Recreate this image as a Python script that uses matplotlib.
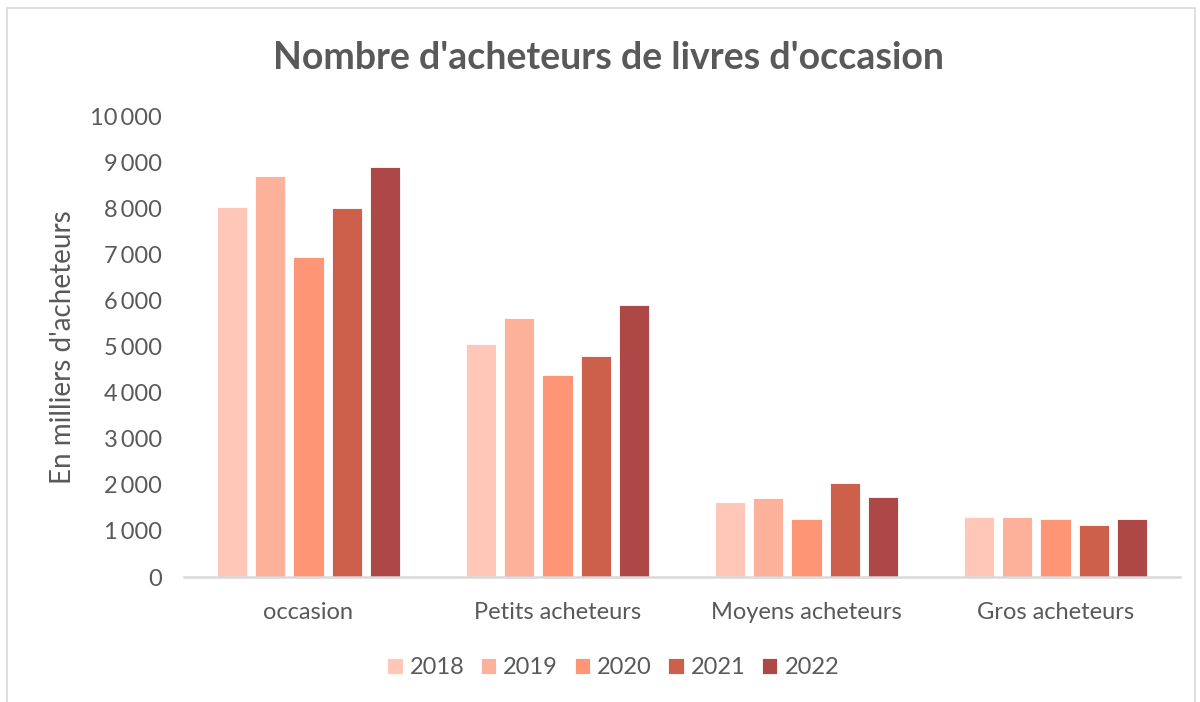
import numpy as np
import matplotlib.pyplot as plt
from matplotlib.patches import Rectangle

# --- Data ---
categories = ['occasion', 'Petits acheteurs', 'Moyens acheteurs', 'Gros acheteurs']
years = ['2018', '2019', '2020', '2021', '2022']
v2018 = [8040, 5060, 1630, 1300]
v2019 = [8700, 5630, 1720, 1300]
v2020 = [6960, 4390, 1270, 1270]
v2021 = [8010, 4810, 2050, 1120]
v2022 = [8910, 5900, 1730, 1270]
series = [v2018, v2019, v2020, v2021, v2022]

colors = ['#FFC7B8', '#FDB09A', '#FE9574', '#CD604A', '#AE4846']
text_col = '#595959'

plt.rcParams['font.family'] = ['Lato', 'DejaVu Sans']

fig = plt.figure(figsize=(12, 7.02), dpi=100)
ax = fig.add_axes([0.1533, 0.178, 0.83, 0.656])

x = np.arange(len(categories))
step = 0.154
width = 0.122
for i, (vals, yr) in enumerate(zip(series, years)):
    ax.bar(x + (i - 2) * step, vals, width, color=colors[i], label=yr,
           edgecolor='white', linewidth=0.6, zorder=2)

ax.set_xlim(-0.5, len(categories) - 0.5)
ax.set_ylim(0, 10000)
ax.set_yticks(range(0, 10001, 1000))
ax.set_yticklabels([f'{v:,}'.replace(',', '\u2009') if v else '0' for v in range(0, 10001, 1000)])
ax.set_xticks(x)
ax.set_xticklabels(categories)

for s in ['top', 'right', 'left']:
    ax.spines[s].set_visible(False)
ax.spines['bottom'].set_color('#d9d9d9')
ax.spines['bottom'].set_linewidth(1.8)
ax.tick_params(axis='both', length=0, colors=text_col, labelsize=17)
ax.tick_params(axis='y', pad=16)
ax.tick_params(axis='x', pad=18)

ax.set_ylabel("En milliers d'acheteurs", fontsize=20, color=text_col, labelpad=10)

fig.text(0.507, 0.917, "Nombre d'acheteurs de livres d'occasion", ha='center', va='center',
         fontsize=27, fontweight='bold', color=text_col)

leg = fig.legend(loc='center', bbox_to_anchor=(0.511, 0.049), ncol=5, frameon=False,
                 fontsize=17, handlelength=0.65, handleheight=0.65, handletextpad=0.3,
                 columnspacing=0.7, labelcolor=text_col)

# light chart border
fig.patches.append(Rectangle((0.006, -0.01), 0.99, 0.998, transform=fig.transFigure,
                             fill=False, edgecolor='#d9d9d9', linewidth=1.2))

fig.savefig('out.png', dpi=100)
